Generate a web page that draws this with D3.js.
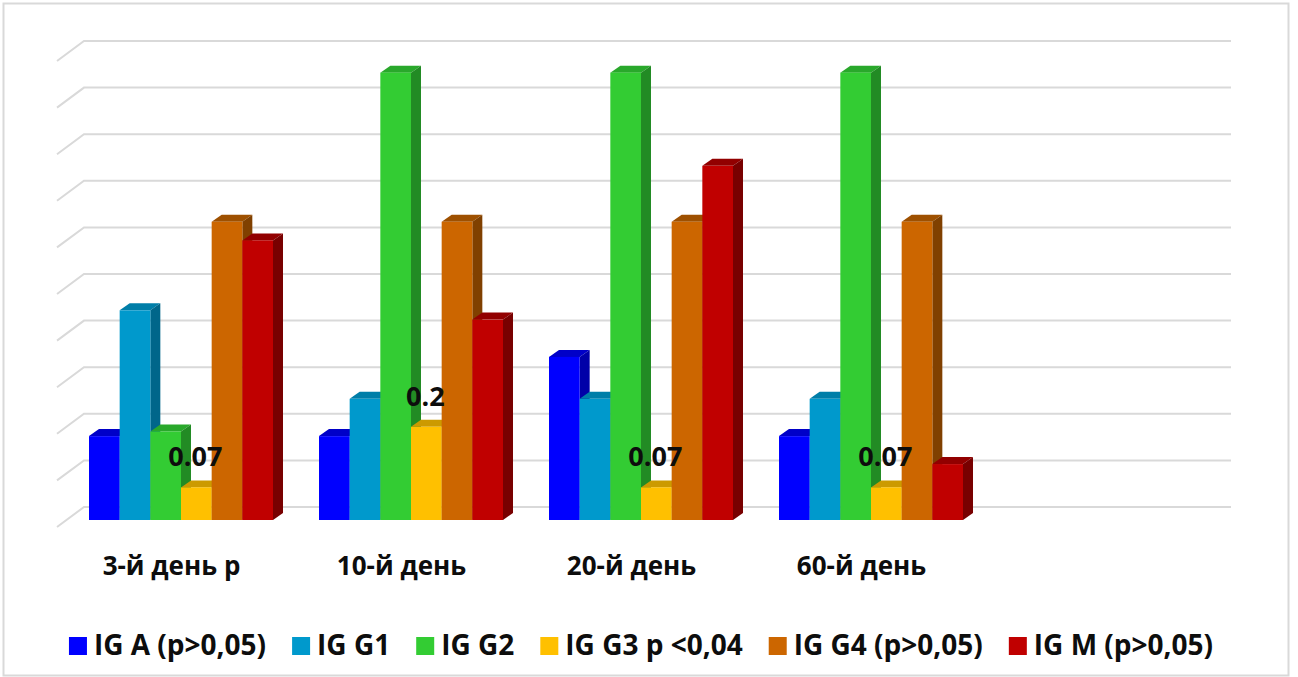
<!DOCTYPE html>
<html>
<head>
<meta charset="utf-8">
<script src="https://cdn.jsdelivr.net/npm/d3@7"></script>
<style>
  html, body { margin: 0; padding: 0; background: #ffffff; }
  svg { display: block; }
  text { font-family: "Open Sans", "Noto Sans", sans-serif; font-weight: 700; fill: #0d0d0d; }
</style>
</head>
<body>
<svg id="chart" width="1298" height="677"></svg>
<script>
// Time points (the last slot is an empty category)
const categories = ["3-й день р", "10-й день", "20-й день", "60-й день", ""];

// Series names as shown in the legend
const seriesNames = ["IG A (p>0,05)", "IG G1", "IG G2", "IG G3 p <0,04", "IG G4 (p>0,05)", "IG M (p>0,05)"];

// Values per series, one per time point (null = no bar)
const igA  = [0.18, 0.18, 0.35, 0.18, null];
const igG1 = [0.45, 0.26, 0.26, 0.26, null];
const igG2 = [0.19, 0.96, 0.96, 0.96, null];
const igG3 = [0.07, 0.20, 0.07, 0.07, null];
const igG4 = [0.64, 0.64, 0.64, 0.64, null];
const igM  = [0.60, 0.43, 0.76, 0.12, null];

// Axis gridline values
const gridTicks = [0, 0.1, 0.2, 0.3, 0.4, 0.5, 0.6, 0.7, 0.8, 0.9, 1.0];

// Series whose values carry a data label
const labelledSeries = "IG G3 p <0,04";

const seriesValues = [igA, igG1, igG2, igG3, igG4, igM];

// front, top and side shades for each series
const palette = [
  { front: "#0000FF", top: "#0000C8", side: "#0000A8" },
  { front: "#0099CC", top: "#007EA8", side: "#00668A" },
  { front: "#33CC33", top: "#29A82B", side: "#228B24" },
  { front: "#FFC000", top: "#CC9A00", side: "#A67C00" },
  { front: "#CC6600", top: "#9E5000", side: "#804000" },
  { front: "#C00000", top: "#920000", side: "#780000" }
];

const svg = d3.select("#chart");

// outer chart border
svg.append("rect")
  .attr("x", 3.5).attr("y", 3.5)
  .attr("width", 1285).attr("height", 672)
  .attr("fill", "#ffffff")
  .attr("stroke", "#d9d9d9").attr("stroke-width", 2);

// 3D projection parameters
const wallLeft = 84, wallRight = 1231;
const sideDx = -27, sideDy = 20;     // receding side-wall offset
const barDx = 10, barDy = -7;        // bar depth offset

const yWall = d3.scaleLinear().domain([0, 1]).range([507, 41]);
const yBar  = d3.scaleLinear().domain([0, 1]).range([520, 54]);

const x0 = d3.scaleBand()
  .domain(categories)
  .range([66, 1216])
  .paddingInner(0.2)
  .paddingOuter(0.1);

const x1 = d3.scaleBand()
  .domain(seriesNames)
  .range([0, x0.bandwidth()]);

// gridlines: back wall plus receding side wall segment
const grid = svg.append("g").attr("class", "grid")
  .attr("stroke", "#d9d9d9").attr("stroke-width", 2).attr("fill", "none");

grid.selectAll("path")
  .data(gridTicks)
  .join("path")
  .attr("d", t => {
    const y = yWall(t);
    return `M${wallLeft + sideDx},${y + sideDy} L${wallLeft},${y} L${wallRight},${y}`;
  });

// bars
const bars = svg.append("g").attr("class", "bars");

categories.forEach((cat, ci) => {
  seriesNames.forEach((name, si) => {
    const v = seriesValues[si][ci];
    if (v == null) return;
    const xl = x0(cat) + x1(name);
    const w = x1.bandwidth();
    const yt = yBar(v), yb = yBar(0);
    const c = palette[si];
    const g = bars.append("g");
    // top face
    g.append("path")
      .attr("d", `M${xl},${yt} L${xl + barDx},${yt + barDy} L${xl + w + barDx},${yt + barDy} L${xl + w},${yt} Z`)
      .attr("fill", c.top);
    // right side face
    g.append("path")
      .attr("d", `M${xl + w},${yt} L${xl + w + barDx},${yt + barDy} L${xl + w + barDx},${yb + barDy} L${xl + w},${yb} Z`)
      .attr("fill", c.side);
    // front face
    g.append("rect")
      .attr("x", xl).attr("y", yt)
      .attr("width", w).attr("height", yb - yt)
      .attr("fill", c.front);
  });
});

// data labels for the IG G3 series
const li = seriesNames.indexOf(labelledSeries);
const labels = svg.append("g").attr("class", "data-labels");
categories.forEach((cat, ci) => {
  const v = seriesValues[li][ci];
  if (v == null) return;
  labels.append("text")
    .attr("x", x0(cat) + x1(labelledSeries) + x1.bandwidth() / 2 - 1)
    .attr("y", yBar(v) - 21)
    .attr("text-anchor", "middle")
    .attr("font-size", 27)
    .text(d3.format(".2~f")(v));
});

// category axis labels on the floor front edge
svg.append("g").attr("class", "x-labels")
  .selectAll("text")
  .data(categories.filter(c => c !== ""))
  .join("text")
  .attr("x", c => x0(c) + x0.bandwidth() / 2 - 9.5)
  .attr("y", 575)
  .attr("text-anchor", "middle")
  .attr("font-size", 26)
  .text(c => c);

// legend
const legend = svg.append("g").attr("class", "legend");
const items = legend.selectAll("g")
  .data(seriesNames)
  .join("g");
items.append("rect")
  .attr("width", 18).attr("height", 18)
  .attr("y", 637)
  .attr("fill", (d, i) => palette[i].front);
items.append("text")
  .attr("x", 25).attr("y", 655)
  .attr("font-size", 28)
  .text(d => d);

let cursor = 0;
const widths = [];
items.each(function () {
  const tw = d3.select(this).select("text").node().getComputedTextLength();
  widths.push(25 + tw);
});
const gap = 26;
const total = d3.sum(widths) + gap * (widths.length - 1);
cursor = 641 - total / 2;
items.attr("transform", (d, i) => {
  const t = `translate(${cursor},0)`;
  cursor += widths[i] + gap;
  return t;
});
</script>
</body>
</html>
